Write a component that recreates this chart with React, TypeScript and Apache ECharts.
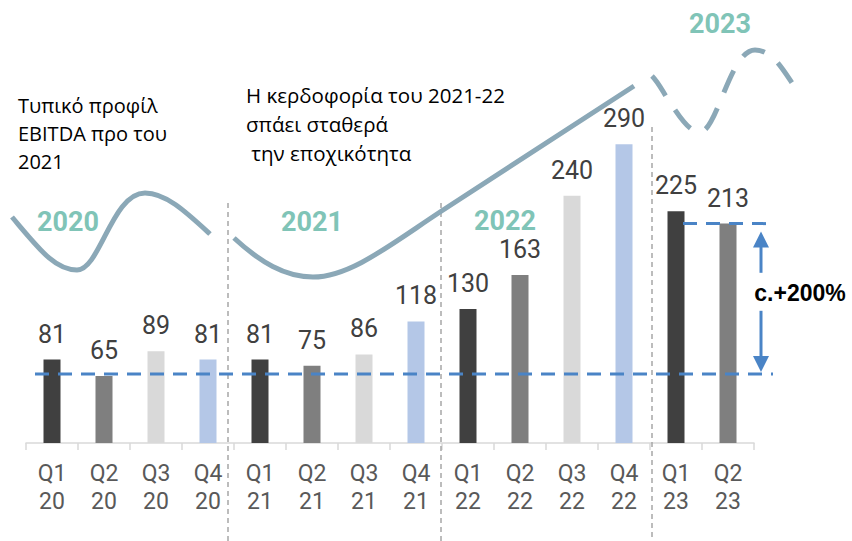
import React, { useEffect, useRef } from "react";
import * as echarts from "echarts";

const categories = ["Q1\n20", "Q2\n20", "Q3\n20", "Q4\n20", "Q1\n21", "Q2\n21", "Q3\n21", "Q4\n21", "Q1\n22", "Q2\n22", "Q3\n22", "Q4\n22", "Q1\n23", "Q2\n23"];
const ebitda = [81, 65, 89, 81, 81, 75, 86, 118, 130, 163, 240, 290, 225, 213];
const quarterColors = ["#404040", "#7f7f7f", "#d9d9d9", "#b4c7e7"];
const refHigh = 213;
const refLow = 67;
const yearLabels = ["2020", "2021", "2022", "2023"];
const noteLeft = "Τυπικό προφίλ\nEBITDA προ του\n2021";
const noteMid = "Η κερδοφορία του 2021-22\nσπάει σταθερά\n την εποχικότητα";
const growthLabel = "c.+200%";

const curve2020 = "M12,217 C40,250 55,270 77,270 C100,270 112,193 145,193 C166,193 186,212 210,234";
const curve2021 = "M234,238 C260,262 285,277 313,277 C350,277 390,245 440,212 L634,86";
const curve2023 = "M652,76 C658,82 662,90 667,98 C678,114 688,132 700,132 C717,132 730,50 755,50 C774,50 785,74 797,90";

let registered = false;
function registerCurves() {
  if (registered) return;
  registered = true;
  echarts.graphic.registerShape("curve2020", echarts.graphic.extendPath(curve2020, {}));
  echarts.graphic.registerShape("curve2021", echarts.graphic.extendPath(curve2021, {}));
  echarts.graphic.registerShape("curve2023", echarts.graphic.extendPath(curve2023, {}));
}

export default function App() {
  const ref = useRef<HTMLDivElement>(null);
  useEffect(() => {
    if (!ref.current) return;
    registerCurves();
    const chart = echarts.init(ref.current, null, { renderer: "svg" });
    const option: any = {
      animation: false,
      backgroundColor: "#ffffff",
      grid: { left: 26, right: 98, top: 31, bottom: 98 },
      xAxis: {
        type: "category",
        data: categories,
        axisLine: { lineStyle: { color: "#d9d9d9", width: 1.5 } },
        axisTick: { show: true, length: 7, lineStyle: { color: "#d9d9d9", width: 1.5 } },
        axisLabel: { color: "#595959", fontSize: 23, lineHeight: 28, fontFamily: "Roboto", margin: 16 },
      },
      yAxis: { type: "value", min: 0, max: 400, show: false, splitLine: { show: false } },
      series: [
        {
          type: "bar",
          barWidth: 17,
          data: ebitda.map((v, i) => ({ value: v, itemStyle: { color: quarterColors[i % 4] } })),
          label: { show: true, position: "top", distance: 13, fontSize: 25, color: "#404040", fontFamily: "Roboto" },
          z: 2,
        },
      ],
    };
    chart.setOption(option);

    const yHi = chart.convertToPixel({ yAxisIndex: 0 }, refHigh) as number;
    const yLo = chart.convertToPixel({ yAxisIndex: 0 }, refLow) as number;
    const curveStyle = { fill: "none", stroke: "#8ba8b7", lineWidth: 5, lineCap: "butt" };
    const divStyle = { stroke: "#a6a6a6", lineWidth: 1.5, lineDash: [5, 4] };
    const blue = "#4a84c6";
    const teal = "#80c4b7";
    const ax = 761;
    const textY = (yHi + yLo) / 2 - 6;
    const graphics: any[] = [
      { type: "line", shape: { x1: 228, y1: 203, x2: 228, y2: 541 }, style: divStyle, z: 1 },
      { type: "line", shape: { x1: 441, y1: 203, x2: 441, y2: 541 }, style: divStyle, z: 1 },
      { type: "line", shape: { x1: 652, y1: 127, x2: 652, y2: 541 }, style: divStyle, z: 1 },
      { type: "curve2020", x: 0, y: 0, style: curveStyle, z: 5 },
      { type: "curve2021", x: 0, y: 0, style: curveStyle, z: 5 },
      { type: "curve2023", x: 0, y: 0, style: { ...curveStyle, lineDash: [24, 17] }, z: 5 },
      { type: "text", x: 68, y: 222, style: { text: yearLabels[0], fontSize: 27, fontWeight: "bold", fontFamily: "Roboto", fill: teal, align: "center", verticalAlign: "middle" }, z: 6 },
      { type: "text", x: 312, y: 222, style: { text: yearLabels[1], fontSize: 27, fontWeight: "bold", fontFamily: "Roboto", fill: teal, align: "center", verticalAlign: "middle" }, z: 6 },
      { type: "text", x: 505, y: 221, style: { text: yearLabels[2], fontSize: 27, fontWeight: "bold", fontFamily: "Roboto", fill: teal, align: "center", verticalAlign: "middle" }, z: 6 },
      { type: "text", x: 720, y: 24, style: { text: yearLabels[3], fontSize: 27, fontWeight: "bold", fontFamily: "Roboto", fill: teal, align: "center", verticalAlign: "middle" }, z: 6 },
      { type: "text", x: 18, y: 91, style: { text: noteLeft, fontSize: 20, lineHeight: 28, fontFamily: "Open Sans", fill: "#000000", align: "left", verticalAlign: "top" }, z: 6 },
      { type: "text", x: 246, y: 80, style: { text: noteMid, fontSize: 20.5, lineHeight: 29, fontFamily: "Open Sans", fill: "#000000", align: "left", verticalAlign: "top" }, z: 6 },
      { type: "line", shape: { x1: 35, y1: yLo, x2: 773, y2: yLo }, style: { stroke: blue, lineWidth: 3, lineDash: [14, 9] }, z: 10 },
      { type: "line", shape: { x1: 683, y1: yHi, x2: 775, y2: yHi }, style: { stroke: blue, lineWidth: 3, lineDash: [14, 9] }, z: 10 },
      { type: "line", shape: { x1: ax, y1: yHi + 22, x2: ax, y2: textY - 20 }, style: { stroke: blue, lineWidth: 3 }, z: 10 },
      { type: "line", shape: { x1: ax, y1: textY + 18, x2: ax, y2: yLo - 16 }, style: { stroke: blue, lineWidth: 3 }, z: 10 },
      { type: "polygon", shape: { points: [[ax, yHi + 8], [ax - 8, yHi + 24], [ax + 8, yHi + 24]] }, style: { fill: blue }, z: 10 },
      { type: "polygon", shape: { points: [[ax, yLo - 2], [ax - 8, yLo - 18], [ax + 8, yLo - 18]] }, style: { fill: blue }, z: 10 },
      { type: "text", x: 800, y: textY, style: { text: growthLabel, fontSize: 23, fontWeight: "bold", fontFamily: "Liberation Sans", fill: "#000000", align: "center", verticalAlign: "middle" }, z: 10 },
    ];
    chart.setOption({ graphic: graphics });
    return () => chart.dispose();
  }, []);
  return <div ref={ref} style={{ width: 852, height: 541, position: "fixed", left: 0, top: 0 }} />;
}
